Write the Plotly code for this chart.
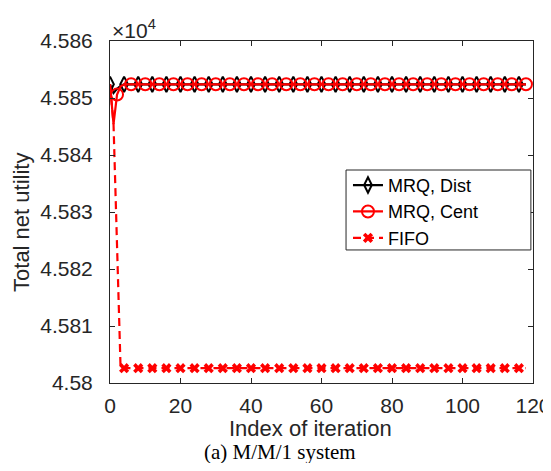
import plotly.graph_objects as go

# ---------------- data ----------------
iterations = list(range(0, 119))

mrq_dist = [
    45852.4, 45850.9, 45851.6, 45852.1, 45852.4, 45852.4, 45852.4, 45852.4, 45852.4, 45852.4,
    45852.4, 45852.4, 45852.4, 45852.4, 45852.4, 45852.4, 45852.4, 45852.4, 45852.4, 45852.4,
    45852.4, 45852.4, 45852.4, 45852.4, 45852.4, 45852.4, 45852.4, 45852.4, 45852.4, 45852.4,
    45852.4, 45852.4, 45852.4, 45852.4, 45852.4, 45852.4, 45852.4, 45852.4, 45852.4, 45852.4,
    45852.4, 45852.4, 45852.4, 45852.4, 45852.4, 45852.4, 45852.4, 45852.4, 45852.4, 45852.4,
    45852.4, 45852.4, 45852.4, 45852.4, 45852.4, 45852.4, 45852.4, 45852.4, 45852.4, 45852.4,
    45852.4, 45852.4, 45852.4, 45852.4, 45852.4, 45852.4, 45852.4, 45852.4, 45852.4, 45852.4,
    45852.4, 45852.4, 45852.4, 45852.4, 45852.4, 45852.4, 45852.4, 45852.4, 45852.4, 45852.4,
    45852.4, 45852.4, 45852.4, 45852.4, 45852.4, 45852.4, 45852.4, 45852.4, 45852.4, 45852.4,
    45852.4, 45852.4, 45852.4, 45852.4, 45852.4, 45852.4, 45852.4, 45852.4, 45852.4, 45852.4,
    45852.4, 45852.4, 45852.4, 45852.4, 45852.4, 45852.4, 45852.4, 45852.4, 45852.4, 45852.4,
    45852.4, 45852.4, 45852.4, 45852.4, 45852.4, 45852.4, 45852.4, 45852.4, 45852.4,
]

mrq_cent = [
    45852.4, 45845.4, 45850.6, 45852.0, 45852.4, 45852.4, 45852.4, 45852.4, 45852.4, 45852.4,
    45852.4, 45852.4, 45852.4, 45852.4, 45852.4, 45852.4, 45852.4, 45852.4, 45852.4, 45852.4,
    45852.4, 45852.4, 45852.4, 45852.4, 45852.4, 45852.4, 45852.4, 45852.4, 45852.4, 45852.4,
    45852.4, 45852.4, 45852.4, 45852.4, 45852.4, 45852.4, 45852.4, 45852.4, 45852.4, 45852.4,
    45852.4, 45852.4, 45852.4, 45852.4, 45852.4, 45852.4, 45852.4, 45852.4, 45852.4, 45852.4,
    45852.4, 45852.4, 45852.4, 45852.4, 45852.4, 45852.4, 45852.4, 45852.4, 45852.4, 45852.4,
    45852.4, 45852.4, 45852.4, 45852.4, 45852.4, 45852.4, 45852.4, 45852.4, 45852.4, 45852.4,
    45852.4, 45852.4, 45852.4, 45852.4, 45852.4, 45852.4, 45852.4, 45852.4, 45852.4, 45852.4,
    45852.4, 45852.4, 45852.4, 45852.4, 45852.4, 45852.4, 45852.4, 45852.4, 45852.4, 45852.4,
    45852.4, 45852.4, 45852.4, 45852.4, 45852.4, 45852.4, 45852.4, 45852.4, 45852.4, 45852.4,
    45852.4, 45852.4, 45852.4, 45852.4, 45852.4, 45852.4, 45852.4, 45852.4, 45852.4, 45852.4,
    45852.4, 45852.4, 45852.4, 45852.4, 45852.4, 45852.4, 45852.4, 45852.4, 45852.4,
]

fifo = [
    45852.4, 45845.4, 45824.0, 45802.6, 45802.6, 45802.6, 45802.6, 45802.6, 45802.6, 45802.6,
    45802.6, 45802.6, 45802.6, 45802.6, 45802.6, 45802.6, 45802.6, 45802.6, 45802.6, 45802.6,
    45802.6, 45802.6, 45802.6, 45802.6, 45802.6, 45802.6, 45802.6, 45802.6, 45802.6, 45802.6,
    45802.6, 45802.6, 45802.6, 45802.6, 45802.6, 45802.6, 45802.6, 45802.6, 45802.6, 45802.6,
    45802.6, 45802.6, 45802.6, 45802.6, 45802.6, 45802.6, 45802.6, 45802.6, 45802.6, 45802.6,
    45802.6, 45802.6, 45802.6, 45802.6, 45802.6, 45802.6, 45802.6, 45802.6, 45802.6, 45802.6,
    45802.6, 45802.6, 45802.6, 45802.6, 45802.6, 45802.6, 45802.6, 45802.6, 45802.6, 45802.6,
    45802.6, 45802.6, 45802.6, 45802.6, 45802.6, 45802.6, 45802.6, 45802.6, 45802.6, 45802.6,
    45802.6, 45802.6, 45802.6, 45802.6, 45802.6, 45802.6, 45802.6, 45802.6, 45802.6, 45802.6,
    45802.6, 45802.6, 45802.6, 45802.6, 45802.6, 45802.6, 45802.6, 45802.6, 45802.6, 45802.6,
    45802.6, 45802.6, 45802.6, 45802.6, 45802.6, 45802.6, 45802.6, 45802.6, 45802.6, 45802.6,
    45802.6, 45802.6, 45802.6, 45802.6, 45802.6, 45802.6, 45802.6, 45802.6, 45802.6,
]

series_names = ["MRQ, Dist", "MRQ, Cent", "FIFO"]
x_tick_vals = [0, 20, 40, 60, 80, 100, 120]
y_tick_vals = [45800, 45810, 45820, 45830, 45840, 45850, 45860]
y_tick_text = ["4.58", "4.581", "4.582", "4.583", "4.584", "4.585", "4.586"]

# marker placement (every 4th sample, as in the picture)
dist_mk = slice(0, None, 4)
cent_mk = slice(2, None, 4)
fifo_mk = slice(4, None, 4)

FONT = "Liberation Sans, Arial, Helvetica, sans-serif"
AX = "#262626"

styles = [
    dict(color="black", dash="solid", symbol="diamond-tall-open", msize=11, mline=2),
    dict(color="#ff0000", dash="solid", symbol="circle-open", msize=12, mline=2),
    dict(color="#ff0000", dash="8px,5px", symbol="x", msize=9, mline=0),
]
data = [mrq_dist, mrq_cent, fifo]
marks = [dist_mk, cent_mk, fifo_mk]

fig = go.Figure()
for name, y, st, mk in zip(series_names, data, styles, marks):
    fig.add_trace(go.Scatter(
        x=iterations, y=y, mode="lines", showlegend=False,
        line=dict(color=st["color"], width=2.2, dash=st["dash"]),
        hoverinfo="skip"))
    mcol = st["color"]
    fig.add_trace(go.Scatter(
        x=iterations[mk], y=y[mk], mode="markers", showlegend=False,
        marker=dict(symbol=st["symbol"], size=st["msize"], color=mcol,
                    line=dict(color=mcol, width=st["mline"]))))

# legend entries
for name, st in zip(series_names, styles):
    fig.add_trace(go.Scatter(
        x=[None], y=[None], mode="lines+markers", name=name,
        line=dict(color=st["color"], width=2.2, dash=st["dash"]),
        marker=dict(symbol=st["symbol"], size=st["msize"], color=st["color"],
                    line=dict(color=st["color"], width=st["mline"]))))

axis_common = dict(
    showline=True, linecolor=AX, linewidth=1, mirror="ticks",
    ticks="inside", ticklen=5, tickcolor=AX, tickwidth=1,
    showgrid=False, zeroline=False, automargin=False,
    tickfont=dict(family=FONT, size=21, color=AX),
)

# the page body adds an 8px margin; the figure is sized so the page does not scroll
fig.update_layout(
    width=543, height=455,
    margin=dict(l=102, r=18, t=33, b=80, pad=0),
    paper_bgcolor="white", plot_bgcolor="white",
    font=dict(family=FONT, color=AX),
    xaxis=dict(range=[0, 120], tickvals=x_tick_vals, ticklabelstandoff=4,
               **axis_common),
    yaxis=dict(range=[45800, 45860], tickvals=y_tick_vals, ticktext=y_tick_text,
               ticklabelstandoff=12, **axis_common),
    legend=dict(x=0.5626, y=0.632, xanchor="left", yanchor="top",
                bgcolor="rgba(0,0,0,0)", borderwidth=0,
                font=dict(family=FONT, size=18, color="black"),
                itemwidth=30, tracegroupgap=0),
    shapes=[
        dict(type="rect", xref="paper", yref="paper",
             x0=0.558, x1=0.995, y0=0.389, y1=0.6228,
             line=dict(color=AX, width=1), fillcolor="white", layer="above"),
    ],
    annotations=[
        dict(text="×10<sup>4</sup>", xref="paper", yref="paper", x=0, y=1.035,
             xanchor="left", yanchor="middle", showarrow=False,
             font=dict(family=FONT, size=21, color=AX)),
        dict(text="Total net utility", xref="paper", yref="paper", x=-0.208, y=0.468,
             xanchor="center", yanchor="middle", textangle=-90, showarrow=False,
             font=dict(family=FONT, size=22, color=AX)),
        dict(text="Index of iteration", xref="paper", yref="paper", x=0.475, y=-0.1316,
             xanchor="center", yanchor="middle", showarrow=False,
             font=dict(family=FONT, size=22, color=AX)),
        dict(text="(a) M/M/1 system", xref="paper", yref="paper", x=0.402, y=-0.2018,
             xanchor="center", yanchor="middle", showarrow=False,
             font=dict(family="Liberation Serif, Times New Roman, serif", size=21, color="black")),
    ],
)

fig.write_html("out.html")
